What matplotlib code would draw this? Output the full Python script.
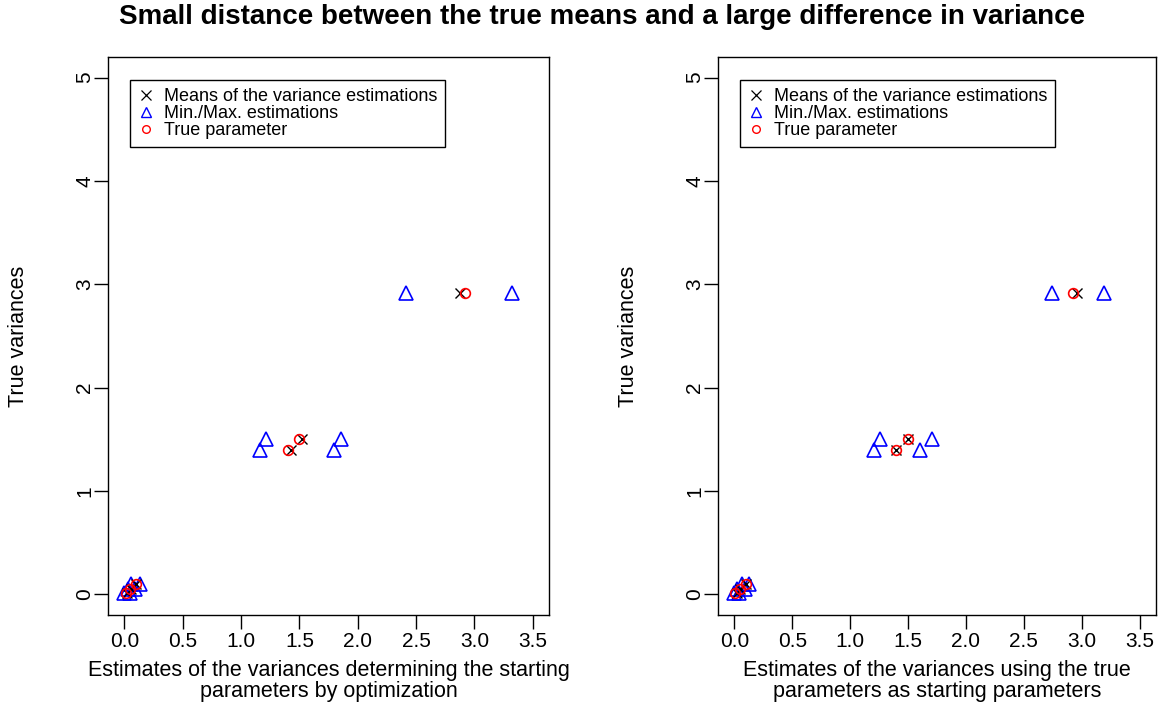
import matplotlib.pyplot as plt

plt.rcParams['font.family'] = ['Liberation Sans', 'DejaVu Sans']

# true variances of the mixture components
true_var = [0.01, 0.05, 0.10, 1.40, 1.50, 2.92]

# estimates with starting values found by optimization
opt_mean = [0.02, 0.06, 0.10, 1.43, 1.52, 2.88]
opt_min = [0.00, 0.03, 0.06, 1.16, 1.21, 2.41]
opt_max = [0.05, 0.09, 0.13, 1.80, 1.86, 3.32]

# estimates started at the true parameters
tp_mean = [0.02, 0.05, 0.10, 1.40, 1.50, 2.96]
tp_min = [0.00, 0.02, 0.07, 1.21, 1.26, 2.74]
tp_max = [0.04, 0.09, 0.13, 1.60, 1.71, 3.19]

xticks = [0.0, 0.5, 1.0, 1.5, 2.0, 2.5, 3.0, 3.5]
yticks = [0, 1, 2, 3, 4, 5]

xlabels = ["Estimates of the variances determining the starting\nparameters by optimization",
           "Estimates of the variances using the true\nparameters as starting parameters"]

fig = plt.figure(figsize=(11.63, 7.06), dpi=100)
ax1 = fig.add_axes([0.0929, 0.1289, 0.3792, 0.7904])
ax2 = fig.add_axes([0.6174, 0.1289, 0.3766, 0.7904])

panels = [(ax1, opt_mean, opt_min, opt_max), (ax2, tp_mean, tp_min, tp_max)]
for i, (ax, mean, lo, hi) in enumerate(panels):
    ax.plot(lo + hi, true_var + true_var, linestyle='none', marker='^', ms=10.5,
            mfc='none', mec='blue', mew=1.2)
    ax.plot(mean, true_var, linestyle='none', marker='x', ms=7, color='black', mew=1.0)
    ax.plot(true_var, true_var, linestyle='none', marker='o', ms=7, mfc='none',
            mec='red', mew=1.2)

    ax.set_xlim(-0.14, 3.64)
    ax.set_ylim(-0.2, 5.2)
    ax.set_xticks(xticks)
    ax.set_xticklabels(['%.1f' % t for t in xticks], fontsize=15)
    ax.set_yticks(yticks)
    ax.set_yticklabels([str(t) for t in yticks], fontsize=15, rotation=90, va='center')
    ax.tick_params(direction='out', length=10, width=1)
    ax.tick_params(axis='x', pad=2)
    ax.tick_params(axis='y', pad=0)
    for s in ax.spines.values():
        s.set_linewidth(1.0)
    ax.set_xlabel(xlabels[i], fontsize=15.5, labelpad=7, linespacing=1.0)
    ax.set_ylabel("True variances", fontsize=15.5, labelpad=33)

    h1, = ax.plot([], [], linestyle='none', marker='x', ms=7, color='black', mew=0.9)
    h2, = ax.plot([], [], linestyle='none', marker='^', ms=7, mfc='none', mec='blue', mew=1.0)
    h3, = ax.plot([], [], linestyle='none', marker='o', ms=5.5, mfc='none', mec='red', mew=1.0)
    leg = ax.legend([h1, h2, h3],
                    ["Means of the variance estimations", "Min./Max. estimations", "True parameter"],
                    loc='upper left', bbox_to_anchor=(0.03, 0.975), fontsize=13,
                    fancybox=False, framealpha=1, edgecolor='black', handlelength=0.8,
                    handletextpad=0.6, labelspacing=0.0, borderpad=0.45)
    leg.get_frame().set_linewidth(1.0)

fig.suptitle("Small distance between the true means and a large difference in variance",
             fontsize=20, fontweight='bold', x=0.518, y=0.995)

fig.savefig("out.png", dpi=100)
